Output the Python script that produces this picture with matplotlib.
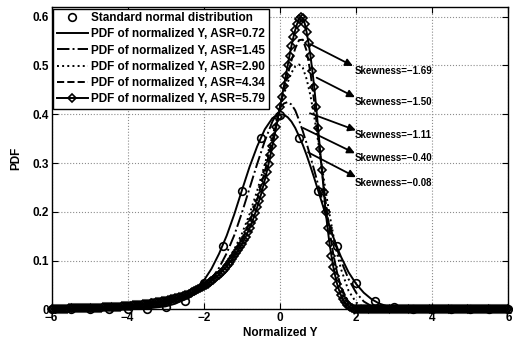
import numpy as np
import matplotlib
matplotlib.use("Agg")
import matplotlib.pyplot as plt

plt.rcParams['font.family'] = ['Liberation Sans', 'DejaVu Sans']
plt.rcParams['font.weight'] = 'bold'
plt.rcParams['axes.labelweight'] = 'bold'

# ---------------- data ----------------
x_norm = [-6, -5.5, -5, -4.5, -4, -3.5, -3, -2.5, -2, -1.5, -1, -0.5, 0,
          0.5, 1, 1.5, 2, 2.5, 3, 3.5, 4, 4.5, 5, 5.5, 6]
y_norm = [0.0, 0.0, 0.0, 0.0, 0.0001, 0.0009, 0.0044, 0.0175, 0.054, 0.1295, 0.242, 0.352, 0.3989,
          0.352, 0.242, 0.1295, 0.054, 0.0175, 0.0044, 0.0009, 0.0001, 0.0, 0.0, 0.0, 0.0]

x_line = [-6, -5.5, -5, -4.5, -4, -3.5, -3, -2.75, -2.5, -2.25, -2, -1.8, -1.6, -1.4, -1.2,
          -1.0, -0.8, -0.6, -0.4, -0.2, 0.0, 0.1, 0.2, 0.3, 0.4, 0.5, 0.6, 0.7, 0.8, 0.9,
          1.0, 1.1, 1.2, 1.3, 1.4, 1.5, 1.6, 1.8, 2.0, 2.2, 2.4, 2.6, 2.8, 3.0, 3.5, 4, 5, 6]

y_asr072 = [0.0, 0.0, 0.0001, 0.0002, 0.0005, 0.0016, 0.0060, 0.0115, 0.0205, 0.0360, 0.0590, 0.0830, 0.1140, 0.1510, 0.1950,
            0.2440, 0.2920, 0.3340, 0.3690, 0.3920, 0.4000, 0.3990, 0.3940, 0.3850, 0.3720, 0.3550, 0.3370, 0.3160, 0.2930, 0.2690,
            0.2440, 0.2190, 0.1940, 0.1700, 0.1480, 0.1270, 0.1080, 0.0760, 0.0520, 0.0340, 0.0210, 0.0120, 0.0065, 0.0030, 0.0004, 0.0, 0.0, 0.0]

y_asr145 = [0.0003, 0.0005, 0.0008, 0.0013, 0.0022, 0.0040, 0.0085, 0.0130, 0.0200, 0.0300, 0.0450, 0.0620, 0.0850, 0.1150, 0.1520,
            0.1980, 0.2480, 0.2980, 0.3450, 0.3850, 0.4130, 0.4220, 0.4250, 0.4200, 0.4080, 0.3880, 0.3650, 0.3400, 0.3130, 0.2850,
            0.2560, 0.2270, 0.1990, 0.1720, 0.1470, 0.1230, 0.1000, 0.0620, 0.0340, 0.0160, 0.0065, 0.0022, 0.0006, 0.0001, 0.0, 0.0, 0.0, 0.0]

y_asr290 = [0.0012, 0.0017, 0.0025, 0.0035, 0.0050, 0.0075, 0.0130, 0.0175, 0.0240, 0.0330, 0.0460, 0.0590, 0.0760, 0.0970, 0.1230,
            0.1550, 0.1950, 0.2430, 0.2970, 0.3550, 0.4120, 0.4400, 0.4650, 0.4850, 0.4980, 0.5020, 0.4950, 0.4720, 0.4380, 0.3950,
            0.3450, 0.2930, 0.2420, 0.1950, 0.1520, 0.1140, 0.0830, 0.0380, 0.0140, 0.0040, 0.0008, 0.0001, 0.0, 0.0, 0.0, 0.0, 0.0, 0.0]

y_asr434 = [0.0015, 0.0022, 0.0032, 0.0046, 0.0068, 0.0100, 0.0160, 0.0210, 0.0275, 0.0360, 0.0480, 0.0600, 0.0740, 0.0920, 0.1140,
            0.1420, 0.1780, 0.2250, 0.2820, 0.3460, 0.4150, 0.4480, 0.4800, 0.5100, 0.5350, 0.5520, 0.5530, 0.5300, 0.4850, 0.4250,
            0.3550, 0.2850, 0.2200, 0.1620, 0.1130, 0.0750, 0.0460, 0.0140, 0.0030, 0.0004, 0.0, 0.0, 0.0, 0.0, 0.0, 0.0, 0.0, 0.0]

# ASR=5.79 curve, sampled every 0.05 from -6 to 6 (241 samples)
x_d = np.round(np.linspace(-6, 6, 241), 2)
y_asr579 = [
    0.0012, 0.00125, 0.0013, 0.00135, 0.0014, 0.00145, 0.0015, 0.00155, 0.0016, 0.0017,
    0.0018, 0.00185, 0.0019, 0.0020, 0.0021, 0.0022, 0.0023, 0.0024, 0.0025, 0.0026,        # -6.00 .. -5.05
    0.0027, 0.00285, 0.0030, 0.00315, 0.0033, 0.00345, 0.0036, 0.00375, 0.0039, 0.0041,
    0.0043, 0.0045, 0.0047, 0.00495, 0.0052, 0.00545, 0.0057, 0.0060, 0.0063, 0.0066,       # -5.00 .. -4.05
    0.0069, 0.00725, 0.0076, 0.00795, 0.0083, 0.0087, 0.0091, 0.00955, 0.0100, 0.0105,
    0.0110, 0.01155, 0.0121, 0.0127, 0.0133, 0.01395, 0.0146, 0.01535, 0.0161, 0.0169,     # -4.00 .. -3.05
    0.0177, 0.0186, 0.0195, 0.0205, 0.0215, 0.0226, 0.0237, 0.0249, 0.0261, 0.02745,
    0.0288, 0.0303, 0.0318, 0.03345, 0.0351, 0.03695, 0.0388, 0.04085, 0.0429, 0.04515,    # -3.00 .. -2.05
    0.0474, 0.0499, 0.0524, 0.0552, 0.0580, 0.0610, 0.0640, 0.0675, 0.0710, 0.0750,
    0.0790, 0.0835, 0.0880, 0.0930, 0.0980, 0.1035, 0.1090, 0.1150, 0.1210, 0.1275,        # -2.00 .. -1.05
    0.1340, 0.1415, 0.1490, 0.1575, 0.1660, 0.1760, 0.1860, 0.1975, 0.2090, 0.2220,
    0.2350, 0.2500, 0.2650, 0.2815, 0.2980, 0.3160, 0.3340, 0.3535, 0.3730, 0.3935,        # -1.00 .. -0.05
    0.4140, 0.4355, 0.4570, 0.4785, 0.5000, 0.5205, 0.5400, 0.5575, 0.5730, 0.5855,
    0.5950, 0.5990, 0.5970, 0.5860, 0.5680, 0.5460, 0.5200, 0.4890, 0.4550, 0.4150,        # 0.00 .. 0.95
    0.3720, 0.3290, 0.2850, 0.2410, 0.2000, 0.1660, 0.1350, 0.1100, 0.0870, 0.0685,
    0.0520, 0.0395, 0.0290, 0.0210, 0.0140, 0.0095, 0.0060, 0.0038, 0.0020, 0.0010,        # 1.00 .. 1.95
    0.0005, 0.0, 0.0, 0.0, 0.0, 0.0, 0.0, 0.0, 0.0, 0.0,
    0.0, 0.0, 0.0, 0.0, 0.0, 0.0, 0.0, 0.0, 0.0, 0.0,                                       # 2.00 .. 2.95
    0.0, 0.0, 0.0, 0.0, 0.0, 0.0, 0.0, 0.0, 0.0, 0.0,
    0.0, 0.0, 0.0, 0.0, 0.0, 0.0, 0.0, 0.0, 0.0, 0.0,                                       # 3.00 .. 3.95
    0.0, 0.0, 0.0, 0.0, 0.0, 0.0, 0.0, 0.0, 0.0, 0.0,
    0.0, 0.0, 0.0, 0.0, 0.0, 0.0, 0.0, 0.0, 0.0, 0.0,                                       # 4.00 .. 4.95
    0.0, 0.0, 0.0, 0.0, 0.0, 0.0, 0.0, 0.0, 0.0, 0.0,
    0.0, 0.0, 0.0, 0.0, 0.0, 0.0, 0.0, 0.0, 0.0, 0.0,                                       # 5.00 .. 5.95
    0.0]                                                                                    # 6.00

skew_labels = ['Skewness=\u22121.69', 'Skewness=\u22121.50', 'Skewness=\u22121.11',
               'Skewness=\u22120.40', 'Skewness=\u22120.08']
legend_labels = ['Standard normal distribution',
                 'PDF of normalized Y, ASR=0.72',
                 'PDF of normalized Y, ASR=1.45',
                 'PDF of normalized Y, ASR=2.90',
                 'PDF of normalized Y, ASR=4.34',
                 'PDF of normalized Y, ASR=5.79']
xticks = [-6, -4, -2, 0, 2, 4, 6]
yticks = [0, 0.1, 0.2, 0.3, 0.4, 0.5, 0.6]
ytick_labels = ['0', '0.1', '0.2', '0.3', '0.4', '0.5', '0.6']

# ---------------- figure ----------------
fig = plt.figure(figsize=(5.13, 3.46), dpi=100)
ax = fig.add_axes([0.1004, 0.1061, 0.8908, 0.8737])

lw = 1.4
ax.plot(x_norm, y_norm, linestyle='none', marker='o', ms=5.5, mfc='none', mec='k', mew=1.2,
        label=legend_labels[0], zorder=5, clip_on=False)
ax.plot(x_line, y_asr072, '-', color='k', lw=lw, label=legend_labels[1])
ax.plot(x_line, y_asr145, '-.', color='k', lw=lw, label=legend_labels[2])
ax.plot(x_line, y_asr290, ':', color='k', lw=lw, label=legend_labels[3])
ax.plot(x_line, y_asr434, '--', color='k', lw=lw, label=legend_labels[4])
ax.plot(x_d, y_asr579, '-', color='k', lw=lw, marker='D', ms=4.3, mfc='none', mec='k', mew=1.2,
        label=legend_labels[5], clip_on=False)

ax.set_xlim(-6, 6)
ax.set_ylim(0, 0.62)
ax.set_xticks(xticks)
ax.set_yticks(yticks)
ax.set_yticklabels(ytick_labels)
ax.tick_params(direction='in', length=4, width=0.8, top=True, right=True, labelsize=8.5, pad=2)
for lab in ax.get_xticklabels() + ax.get_yticklabels():
    lab.set_fontweight('bold')
ax.grid(True, linestyle=':', color='0.55', lw=0.8)
for s in ax.spines.values():
    s.set_linewidth(1.0)

ax.set_xlabel('Normalized Y', fontsize=8.5, fontweight='bold', labelpad=2)
ax.set_ylabel('PDF', fontsize=8.5, fontweight='bold', labelpad=7)

leg = ax.legend(loc='upper left', bbox_to_anchor=(0.0, 1.0), borderaxespad=0.15,
                fontsize=8.5, frameon=True, fancybox=False, framealpha=1, edgecolor='k',
                handlelength=2.6, handletextpad=0.3, labelspacing=0.35, borderpad=0.3)
leg.get_frame().set_linewidth(1.0)
leg.set_zorder(10)
for t in leg.get_texts():
    t.set_fontweight('bold')

# arrows (start point on curve -> tip near label)
arrows = [((0.787, 0.544), (1.916, 0.499), 0.488),
          ((0.963, 0.475), (1.969, 0.435), 0.425),
          ((0.787, 0.402), (1.995, 0.367), 0.357),
          ((0.604, 0.372), (1.969, 0.320), 0.310),
          ((0.735, 0.322), (1.995, 0.271), 0.259)]
for (start, tip, ty), lab in zip(arrows, skew_labels):
    ax.annotate('', xy=tip, xytext=start,
                arrowprops=dict(arrowstyle='-|>', color='k', lw=1.3, mutation_scale=11,
                                shrinkA=0, shrinkB=0))
    ax.text(1.97, ty, lab, fontsize=7, fontweight='bold', ha='left', va='center')

fig.savefig('out.png', dpi=100)
